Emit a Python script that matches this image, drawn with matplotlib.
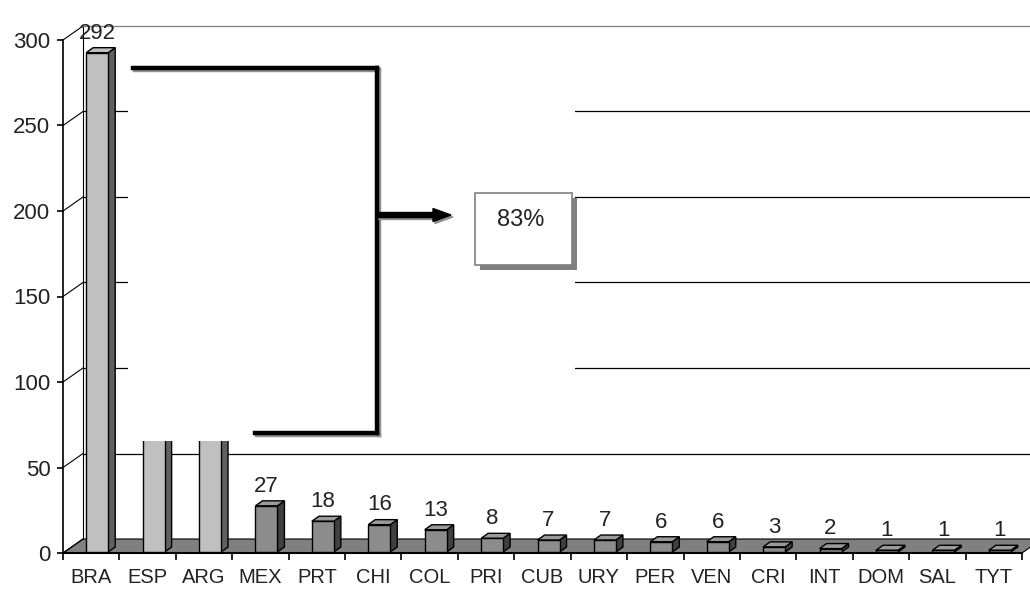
import matplotlib
matplotlib.use("Agg")
import matplotlib.pyplot as plt
from matplotlib.patches import Polygon, Rectangle, FancyArrow
from matplotlib.lines import Line2D
from matplotlib.transforms import Affine2D

plt.rcParams['font.family'] = ['Liberation Sans', 'DejaVu Sans']

# data
countries = ['BRA', 'ESP', 'ARG', 'MEX', 'PRT', 'CHI', 'COL', 'PRI', 'CUB',
             'URY', 'PER', 'VEN', 'CRI', 'INT', 'DOM', 'SAL', 'TYT']
values = [292, 150, 124, 27, 18, 16, 13, 8, 7, 7, 6, 6, 3, 2, 1, 1, 1]
top3 = ['BRA', 'ESP', 'ARG']
hidden = ['ESP', 'ARG']
yticks = [0, 50, 100, 150, 200, 250, 300]
share_text = '83%'

W, H = 1030, 597
fig = plt.figure(figsize=(W / 100, H / 100), dpi=100)
ax = fig.add_axes([63 / W, (H - 553) / H, 959 / W, 513 / H])
ax.set_xlim(-0.5, len(countries) - 0.5)
ax.set_ylim(0, 300)

ux = 959 / len(countries)   # px per category
uy = 513 / 300              # px per unit


def off(px, py):
    return px / ux, py / uy


# pixel transform (y down) for the annotation shapes
tpx = Affine2D().scale(1 / 100, -1 / 100).translate(0, H / 100) + fig.dpi_scale_trans

Dx, Dy = off(20, 14)
x0, x1 = -0.5, len(countries) - 0.5

# floor
ax.add_patch(Polygon([(x0, 0), (x1, 0), (x1 + Dx, Dy), (x0 + Dx, Dy)],
                     closed=True, facecolor='#808080', edgecolor='black',
                     lw=0.8, clip_on=False, zorder=1))

# left wall + back wall gridlines
ax.plot([x0 + Dx, x0 + Dx], [Dy, 300 + Dy], color='black', lw=0.8,
        clip_on=False, zorder=1)
for v in yticks:
    ax.plot([x0, x0 + Dx], [v, v + Dy], color='black', lw=0.8,
            clip_on=False, zorder=1)
    if v > 0:
        ax.plot([x0 + Dx, x1 + Dx], [v + Dy, v + Dy],
                color='#808080' if v == 300 else 'black', lw=0.9,
                clip_on=False, zorder=1)

# bars
w = 22 / ux
fx, fy = off(6, 1)
bdx, bdy = off(7, 5)
for i, (c, v) in enumerate(zip(countries, values)):
    if c in top3:
        front, side, top = '#c0c0c0', '#606060', '#c0c0c0'
    else:
        front, side, top = '#8c8c8c', '#404040', '#9a9a9a'
    xl = i - w / 2 + fx
    xr = i + w / 2 + fx
    yb = fy
    yt = v + fy
    ax.add_patch(Polygon([(xr, yb), (xr + bdx, yb + bdy), (xr + bdx, yt + bdy), (xr, yt)],
                         closed=True, facecolor=side, edgecolor='black', lw=1,
                         clip_on=False, zorder=3))
    ax.add_patch(Polygon([(xl, yt), (xr, yt), (xr + bdx, yt + bdy), (xl + bdx, yt + bdy)],
                         closed=True, facecolor=top, edgecolor='black', lw=1,
                         clip_on=False, zorder=3))
    ax.add_patch(Rectangle((xl, yb), w, v, facecolor=front, edgecolor='black',
                           lw=1, clip_on=False, zorder=3))
    if c not in hidden:
        ax.annotate(str(v), (i + fx, yt + bdy), xytext=(0, 3),
                    textcoords='offset points', ha='center', va='bottom',
                    fontsize=16, color='#222222', zorder=4,
                    annotation_clip=False)

# axes
for s in ['top', 'right']:
    ax.spines[s].set_visible(False)
ax.spines['left'].set_linewidth(1.2)
ax.spines['bottom'].set_linewidth(1.5)
ax.set_yticks(yticks)
ax.set_yticklabels([str(t) for t in yticks], fontsize=16, color='#222222')
ax.tick_params(axis='y', length=4, width=1.2, pad=5)
ax.set_xticks(range(len(countries)))
ax.set_xticklabels(countries, fontsize=14.5, color='#222222')
ax.set_xticks([k - 0.5 for k in range(len(countries) + 1)], minor=True)
ax.tick_params(axis='x', which='major', length=0, pad=11)
ax.tick_params(axis='x', which='minor', length=5, width=1.2)
ax.patch.set_visible(False)

# white mask over ESP / ARG
fig.add_artist(Rectangle((128, 30), 447, 411, transform=tpx,
                         facecolor='white', edgecolor='none', zorder=5))

# bracket with shadow
brk = [([133, 377], [68, 68]), ([377, 377], [68, 433]), ([255, 377], [433, 433])]
for dx, col in [(2, '#909090'), (0, 'black')]:
    for xs, ys in brk:
        fig.add_artist(Line2D([x + dx for x in xs], [y + dx for y in ys],
                              transform=tpx, color=col, lw=3.2,
                              solid_capstyle='projecting', zorder=6))
for dx, col in [(2, '#909090'), (0, 'black')]:
    fig.add_artist(FancyArrow(377 + dx, 215 + dx, 74, 0, width=5,
                              head_width=13, head_length=18,
                              length_includes_head=True, transform=tpx,
                              color=col, zorder=6))

# percentage box
fig.add_artist(Rectangle((480, 198), 97, 72, transform=tpx,
                         facecolor='#808080', edgecolor='none', zorder=6))
fig.add_artist(Rectangle((475, 193), 97, 72, transform=tpx,
                         facecolor='white', edgecolor='#808080', lw=1.2, zorder=7))
fig.text(521 / W, 1 - 220 / H, share_text, ha='center', va='center',
         fontsize=17, color='#222222', zorder=8)

fig.savefig('out.png', dpi=100)
